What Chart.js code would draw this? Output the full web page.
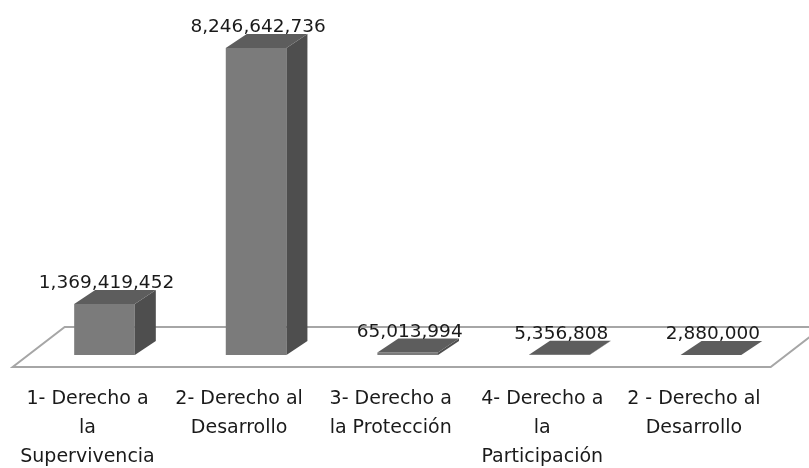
<!DOCTYPE html>
<html>
<head>
<meta charset="utf-8">
<script src="https://cdn.jsdelivr.net/npm/chart.js@4.4.0/dist/chart.umd.min.js"></script>
<style>
  html, body { margin: 0; padding: 0; background: #fff; }
  #wrap { width: 809px; height: 468px; }
</style>
</head>
<body>
<div id="wrap"><canvas id="rightsChart"></canvas></div>
<script>
// Data
const categories = [
  ['1- Derecho a', 'la', 'Supervivencia'],
  ['2- Derecho al', 'Desarrollo'],
  ['3- Derecho a', 'la Protección'],
  ['4- Derecho a', 'la', 'Participación'],
  ['2 - Derecho al', 'Desarrollo']
];
const amounts = [1369419452, 8246642736, 65013994, 5356808, 2880000];
const yMax = 9000000000;

// 3D look
const depthX = 21;
const depthY = -14;
const frontColor = '#7b7b7b';
const sideColor = '#4e4e4e';
const topColor = '#5d5d5d';
const fontFamily = '"DejaVu Sans", sans-serif';

// floor under the bars
const floorPlugin = {
  id: 'floor3d',
  beforeDatasetsDraw(chart) {
    const { ctx, chartArea, scales } = chart;
    const base = scales.y.getPixelForValue(0);
    const frontY = base + 12;
    const backY = base - 28;
    const fl = chartArea.left - 16;
    const fr = chartArea.right - 16;
    ctx.save();
    ctx.beginPath();
    ctx.moveTo(fl, frontY);
    ctx.lineTo(fr, frontY);
    ctx.lineTo(fr + 52, backY);
    ctx.lineTo(fl + 52, backY);
    ctx.closePath();
    ctx.fillStyle = '#ffffff';
    ctx.fill();
    ctx.strokeStyle = '#a6a6a6';
    ctx.lineWidth = 2;
    ctx.stroke();
    ctx.restore();
  }
};

// side + top faces, value labels, category labels
const boxPlugin = {
  id: 'box3d',
  afterDatasetsDraw(chart) {
    const { ctx, scales } = chart;
    const meta = chart.getDatasetMeta(0);
    ctx.save();
    meta.data.forEach((bar, i) => {
      const left = bar.x - bar.width / 2;
      const right = bar.x + bar.width / 2;
      const top = bar.y;
      const base = bar.base;

      // right side
      ctx.beginPath();
      ctx.moveTo(right, top);
      ctx.lineTo(right + depthX, top + depthY);
      ctx.lineTo(right + depthX, base + depthY);
      ctx.lineTo(right, base);
      ctx.closePath();
      ctx.fillStyle = sideColor;
      ctx.fill();

      // top
      ctx.beginPath();
      ctx.moveTo(left, top);
      ctx.lineTo(right, top);
      ctx.lineTo(right + depthX, top + depthY);
      ctx.lineTo(left + depthX, top + depthY);
      ctx.closePath();
      ctx.fillStyle = topColor;
      ctx.fill();

      // value label
      ctx.fillStyle = '#1a1a1a';
      ctx.font = '18.5px ' + fontFamily;
      ctx.textAlign = 'center';
      ctx.textBaseline = 'alphabetic';
      ctx.fillText(amounts[i].toLocaleString('en-US'), bar.x + 2, top + depthY - 2);
    });

    // category labels under the floor
    ctx.font = '19px ' + fontFamily;
    ctx.textBaseline = 'middle';
    categories.forEach((lines, i) => {
      const x = scales.x.getPixelForValue(i) - 17;
      lines.forEach((line, j) => {
        ctx.fillText(line, x, 399 + j * 29);
      });
    });
    ctx.restore();
  }
};

const ctx = document.getElementById('rightsChart');
new Chart(ctx, {
  type: 'bar',
  data: {
    labels: categories,
    datasets: [{
      data: amounts,
      backgroundColor: frontColor,
      borderWidth: 0,
      barPercentage: 0.4,
      categoryPercentage: 1
    }]
  },
  options: {
    responsive: true,
    maintainAspectRatio: false,
    animation: false,
    layout: {
      padding: { left: 28.7, right: 22.3, top: 20, bottom: 113 }
    },
    scales: {
      x: { display: false },
      y: { display: false, min: 0, max: yMax }
    },
    plugins: {
      legend: { display: false },
      tooltip: { enabled: false }
    }
  },
  plugins: [floorPlugin, boxPlugin]
});
</script>
</body>
</html>
